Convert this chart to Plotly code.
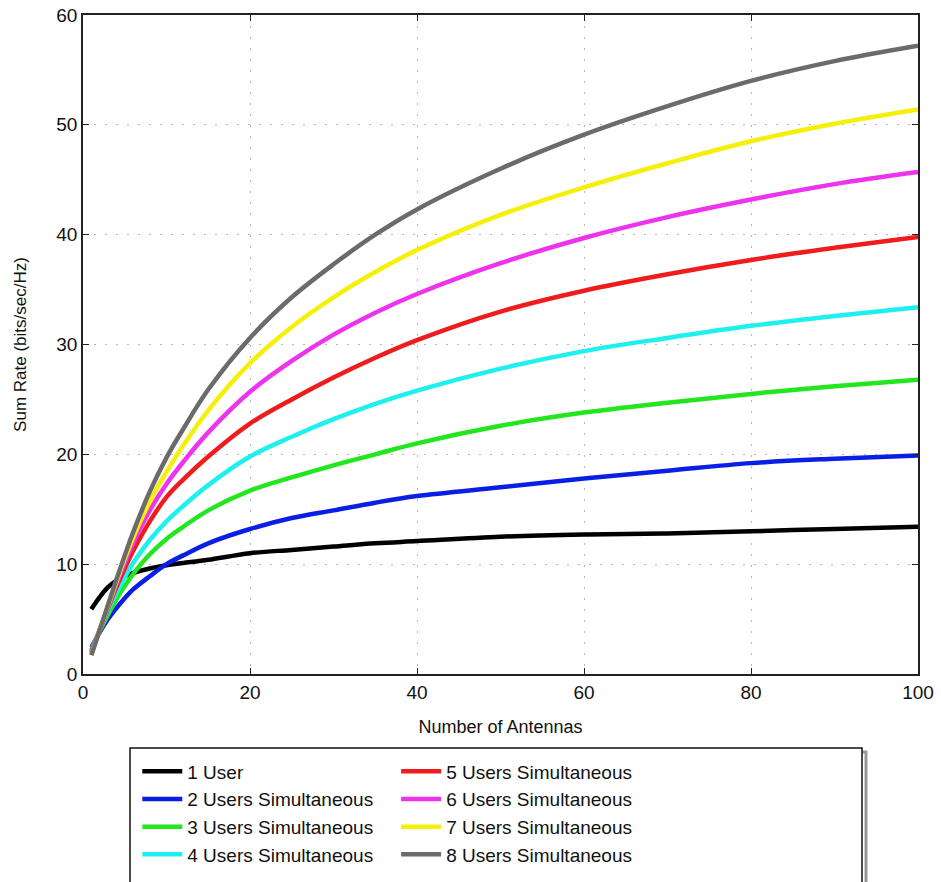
import plotly.graph_objects as go

antennas = [1, 2, 3, 4, 5, 6, 8, 10, 12, 15, 20, 25, 30, 35, 40, 50, 60, 70, 80, 90, 100]

user1 = [5.9, 7.0, 7.9, 8.5, 8.9, 9.2, 9.6, 9.9, 10.1, 10.4, 11.0, 11.3, 11.6, 11.9, 12.1, 12.5, 12.7, 12.8, 13.0, 13.2, 13.4]
users2 = [2.4, 3.8, 5.0, 6.0, 6.9, 7.7, 8.9, 10.0, 10.8, 11.9, 13.2, 14.2, 14.9, 15.6, 16.2, 17.0, 17.8, 18.5, 19.2, 19.6, 19.9]
users3 = [2.2, 3.9, 5.4, 6.8, 8.0, 9.1, 10.9, 12.3, 13.4, 14.9, 16.7, 17.9, 19.0, 20.0, 21.0, 22.6, 23.8, 24.7, 25.5, 26.2, 26.8]
users4 = [2.1, 4.0, 5.8, 7.4, 8.8, 10.1, 12.2, 13.9, 15.3, 17.2, 19.8, 21.6, 23.2, 24.6, 25.8, 27.8, 29.4, 30.6, 31.7, 32.6, 33.4]
users5 = [2.0, 4.0, 6.0, 7.9, 9.6, 11.2, 13.9, 16.1, 17.7, 19.8, 22.8, 25.0, 27.0, 28.8, 30.4, 33.0, 34.9, 36.4, 37.7, 38.8, 39.8]
users6 = [1.9, 4.0, 6.1, 8.2, 10.1, 11.9, 14.9, 17.3, 19.3, 22.0, 25.7, 28.5, 30.9, 32.9, 34.6, 37.4, 39.7, 41.6, 43.2, 44.6, 45.7]
users7 = [1.8, 4.0, 6.2, 8.4, 10.5, 12.4, 15.7, 18.4, 20.8, 24.0, 28.3, 31.6, 34.3, 36.6, 38.6, 41.8, 44.3, 46.5, 48.5, 50.1, 51.4]
users8 = [1.7, 4.0, 6.3, 8.6, 10.8, 12.9, 16.6, 19.7, 22.3, 25.9, 30.6, 34.3, 37.3, 40.0, 42.3, 46.0, 49.1, 51.7, 54.0, 55.8, 57.2]

series_names = ["1 User", "2 Users Simultaneous", "3 Users Simultaneous", "4 Users Simultaneous",
                "5 Users Simultaneous", "6 Users Simultaneous", "7 Users Simultaneous", "8 Users Simultaneous"]
series_values = [user1, users2, users3, users4, users5, users6, users7, users8]
colors = ["#000000", "#0a1fe6", "#22e61e", "#1ef0f0", "#ee1c1c", "#ee33ee", "#f5f00a", "#6b6b6b"]

FONT = "Liberation Sans"

fig = go.Figure()
for i, (name, vals, col) in enumerate(zip(series_names, series_values, colors)):
    fig.add_trace(go.Scatter(
        x=antennas, y=vals, name=name, mode="lines",
        line=dict(color=col, width=4.5, shape="spline", smoothing=1.0),
        legend="legend" if i < 4 else "legend2",
    ))

axis_common = dict(
    showline=True, linecolor="#222", linewidth=1.5, mirror="ticks",
    ticks="inside", ticklen=6, tickcolor="#222",
    showgrid=True, gridcolor="#b5b5b5", griddash="2px,9px", gridwidth=1.2,
    zeroline=False, automargin=False,
    tickfont=dict(family=FONT, size=19, color="#111"),
)

fig.update_layout(
    width=941, height=882,
    margin=dict(l=83, r=23, t=15, b=208, autoexpand=False),
    paper_bgcolor="white", plot_bgcolor="white",
    font=dict(family=FONT, color="#111"),
    xaxis=dict(range=[0, 100], dtick=20,
               title=dict(text="Number of Antennas", font=dict(size=18), standoff=19), **axis_common),
    yaxis=dict(range=[0, 60], dtick=10,
               title=dict(text="Sum Rate (bits/sec/Hz)", font=dict(size=17), standoff=25), **axis_common),
    legend=dict(x=0.065, y=-0.119, xanchor="left", yanchor="top", font=dict(family=FONT, size=19),
                bgcolor="rgba(0,0,0,0)", tracegroupgap=0, itemwidth=40),
    legend2=dict(x=0.375, y=-0.119, xanchor="left", yanchor="top", font=dict(family=FONT, size=19),
                 bgcolor="rgba(0,0,0,0)", tracegroupgap=0, itemwidth=40),
    shapes=[
        dict(type="rect", xref="paper", yref="paper",
             x0=(134 - 83) / 835, x1=(866 - 83) / 835, y0=(674 - 886) / 659, y1=(674 - 752) / 659,
             line=dict(color="#999", width=3), fillcolor="rgba(0,0,0,0)", layer="below"),
        dict(type="rect", xref="paper", yref="paper",
             x0=(130 - 83) / 835, x1=(862 - 83) / 835, y0=(674 - 884) / 659, y1=(674 - 748) / 659,
             line=dict(color="#111", width=1.5), fillcolor="white", layer="below"),
    ],
)

fig.write_html("out.html", config={"displayModeBar": False},
               post_script="document.body.style.margin='0px';document.body.style.overflow='hidden';")
